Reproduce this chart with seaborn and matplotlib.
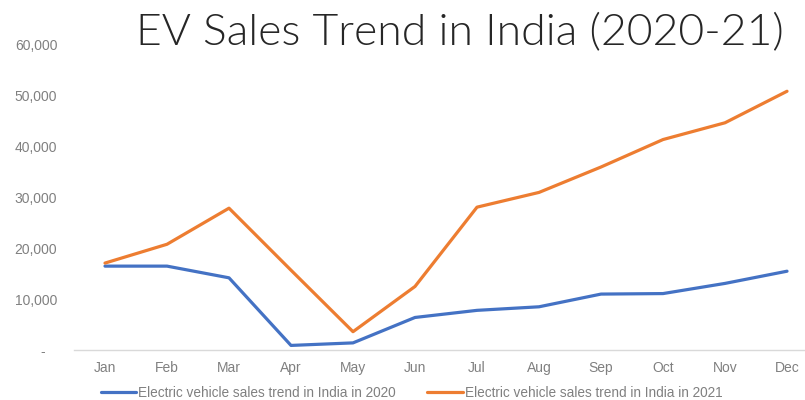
import matplotlib
matplotlib.use("Agg")
import matplotlib.pyplot as plt
import seaborn as sns
import pandas as pd
from matplotlib.ticker import FuncFormatter
from matplotlib.lines import Line2D

months = ["Jan", "Feb", "Mar", "Apr", "May", "Jun", "Jul", "Aug", "Sep", "Oct", "Nov", "Dec"]
sales_2020 = [16500, 16500, 14200, 900, 1400, 6400, 7800, 8500, 11000, 11100, 13100, 15500]
sales_2021 = [17100, 20800, 27900, 15700, 3600, 12500, 28100, 31000, 36000, 41400, 44700, 50900]
series_labels = ["Electric vehicle sales trend in India in 2020",
                 "Electric vehicle sales trend in India in 2021"]
title = "EV Sales Trend in India (2020-21)"

df = pd.DataFrame({
    "month_idx": list(range(12)) * 2,
    "sales": sales_2020 + sales_2021,
    "series": [series_labels[0]] * 12 + [series_labels[1]] * 12,
})

sns.set_theme(style="white")
plt.rcParams["font.family"] = ["Liberation Sans", "DejaVu Sans"]

fig = plt.figure(figsize=(8.05, 4.0), dpi=100)
ax = fig.add_axes([74 / 805, 50 / 400, 731 / 805, 305 / 400])

sns.lineplot(data=df, x="month_idx", y="sales", hue="series",
             palette=["#4472C4", "#ED7D31"], linewidth=2.3, ax=ax, legend=False)

ax.set_xlim(-0.5, 11.29)
ax.set_ylim(0, 60000)
ax.set_xticks(range(12))
ax.set_xticklabels(months)
ax.set_yticks(range(0, 60001, 10000))
ax.yaxis.set_major_formatter(FuncFormatter(lambda v, p: "-   " if v == 0 else f"{int(v):,}"))
ax.set_xlabel("")
ax.set_ylabel("")
for s in ["top", "right", "left"]:
    ax.spines[s].set_visible(False)
ax.spines["bottom"].set_color("#d9d9d9")
ax.spines["bottom"].set_linewidth(1.0)
ax.tick_params(axis="y", length=0, pad=12, labelsize=10, labelcolor="#808080")
ax.tick_params(axis="x", length=0, pad=8, labelsize=10, labelcolor="#808080")
ax.grid(False)

handles = [Line2D([], [], color="#4472C4", lw=2.3), Line2D([], [], color="#ED7D31", lw=2.3)]
fig.legend(handles, series_labels, loc="center left", bbox_to_anchor=(94 / 805, 7 / 400),
           ncol=2, frameon=False, fontsize=9.8, labelcolor="#808080", borderpad=0,
           handlelength=2.6, handletextpad=0.15, columnspacing=2.3)

fig.text(460 / 805, 1 - 33 / 400, title, ha="center", va="center",
         fontsize=32, color="#262626", family=["Lato", "DejaVu Sans"], fontweight=300)

fig.savefig("out.png", dpi=100)
